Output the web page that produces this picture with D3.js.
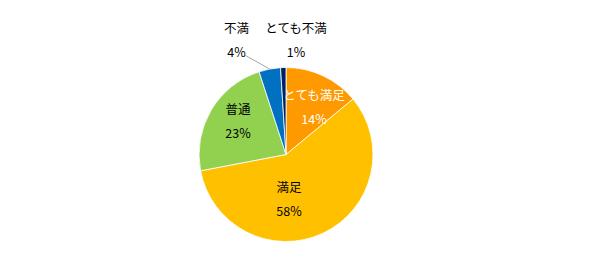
<!DOCTYPE html>
<html><head><meta charset="utf-8">
<script src="https://cdn.jsdelivr.net/npm/d3@7/dist/d3.min.js"></script>
<style>body{margin:0;background:#fff}svg{display:block}</style>
</head><body>
<script>
const categories = ["とても満足","満足","普通","不満","とても不満"];
const values = [14,58,23,4,1];
const colors = ["#FF9900","#FFC000","#92D050","#0070C0","#002060"];
const labelColors = ["#fff","#000","#000","#000","#000"];
// label block centres relative to pie centre (layout)
const labelOffsets = [[28,-49],[3,43],[-48,-35],[-49.5,-116],[10,-116]];

const W=605,H=259,cx=286,cy=154.5,R=87;
const svg=d3.select("body").append("svg").attr("width",W).attr("height",H);
const data=categories.map((c,i)=>({c,v:values[i],i}));
const pie=d3.pie().value(d=>d.v).sort(null);
const arc=d3.arc().innerRadius(0).outerRadius(R);
const g=svg.append("g").attr("transform",`translate(${cx},${cy})`);
const arcs=pie(data);
g.selectAll("path").data(arcs).join("path")
 .attr("d",arc).attr("fill",d=>colors[d.data.i])
 .attr("stroke","#fff").attr("stroke-width",0.8);

// leader line for 不満
const a4=arcs[3];
const mid=(a4.startAngle+a4.endAngle)/2;
const ex=Math.sin(mid)*R, ey=-Math.cos(mid)*R;
g.append("line").attr("x1",-40.5).attr("y1",-99).attr("x2",ex).attr("y2",ey)
 .attr("stroke","#A6A6A6").attr("stroke-width",1);

const total=d3.sum(values);
const lab=g.selectAll("g.lab").data(arcs).join("g").attr("class","lab")
 .attr("transform",d=>`translate(${labelOffsets[d.data.i][0]},${labelOffsets[d.data.i][1]})`);
lab.append("text").attr("text-anchor","middle").attr("y",-6)
 .attr("font-family","'Noto Sans CJK JP', sans-serif").attr("font-size",12.5)
 .attr("fill",d=>labelColors[d.data.i]).text(d=>d.data.c);
lab.append("text").attr("text-anchor","middle").attr("y",18)
 .attr("font-family","'Noto Sans CJK JP', sans-serif").attr("font-size",12.5)
 .attr("fill",d=>labelColors[d.data.i]).text(d=>Math.round(d.data.v/total*100)+"%");
</script>
</body></html>
